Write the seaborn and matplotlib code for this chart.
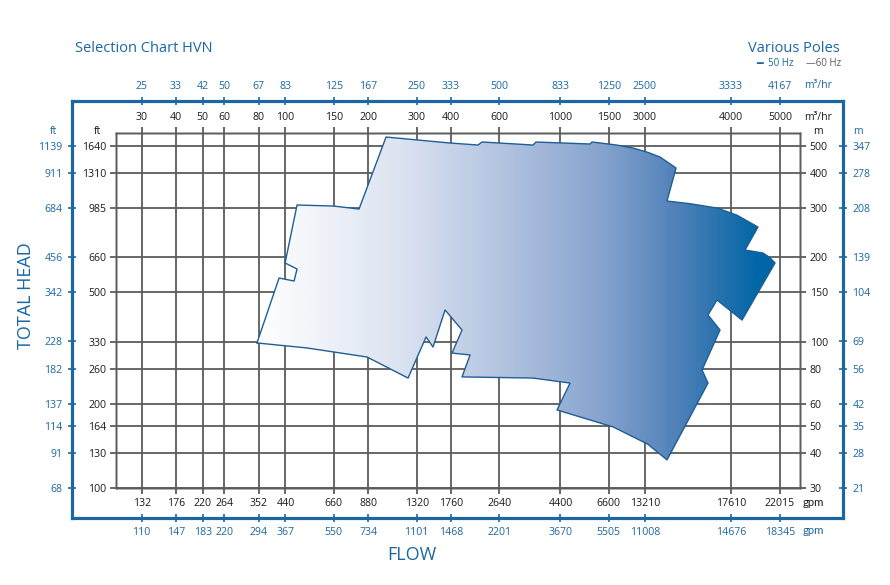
import numpy as np
import matplotlib
matplotlib.use("Agg")
import matplotlib.pyplot as plt
import seaborn as sns
from matplotlib.colors import LinearSegmentedColormap
from matplotlib.image import AxesImage
from matplotlib.ticker import NullLocator

# flow axis: where the grid lines sit (m3/hr) and the printed labels
flow_grid = [30, 40, 50, 60, 80, 100, 150, 200, 300, 400, 600, 1000, 1500, 2030, 4170, 6290]
flow_m3h_50 = ['30', '40', '50', '60', '80', '100', '150', '200', '300', '400', '600',
               '1000', '1500', '3000', '4000', '5000']
flow_m3h_60 = ['25', '33', '42', '50', '67', '83', '125', '167', '250', '333', '500',
               '833', '1250', '2500', '3333', '4167']
flow_gpm_50 = ['132', '176', '220', '264', '352', '440', '660', '880', '1320', '1760', '2640',
               '4400', '6600', '13210', '17610', '22015']
flow_gpm_60 = ['110', '147', '183', '220', '294', '367', '550', '734', '1101', '1468', '2201',
               '3670', '5505', '11008', '14676', '18345']

# head axis (m)
head_m = [30, 40, 50, 60, 80, 100, 150, 200, 300, 400, 500]
head_m_60 = ['21', '28', '35', '42', '56', '69', '104', '139', '208', '278', '347']
head_ft_50 = ['100', '130', '164', '200', '260', '330', '500', '660', '985', '1310', '1640']
head_ft_60 = ['68', '91', '114', '137', '182', '228', '342', '456', '684', '911', '1139']

# outline of the HVN selection range (flow m3/hr, head m)
range_flow = [78.8, 94.8, 107.5, 110.2, 99.7, 110.2, 149, 185.2, 232.2, 396.7, 501.6, 518.6,
              795, 815, 1281, 1303, 1600, 1836, 2080, 2302, 2633, 2441, 2950, 3711, 4380,
              5230, 4692, 5453, 5760, 6032, 4575, 3711, 3441, 3806, 3273, 3441, 2441, 2080,
              1553, 1240, 972, 1084, 795, 438.7, 469.2, 403.4, 438.7, 380.6, 344.1, 324.6,
              279.2, 198, 119.8]
range_head = [98.9, 168.7, 164.6, 181.7, 190.9, 307.5, 305, 297.5, 537.9, 512, 503.7, 516.3,
              503.7, 516.3, 507.9, 516.3, 503.7, 491.4, 474, 456.3, 417, 317.7, 311, 300, 283,
              256.5, 212.4, 207.2, 200, 190.9, 119.4, 140.8, 124.5, 110, 79.2, 71.1, 37.8, 43,
              49.6, 53, 57, 71.1, 74.1, 74.8, 89.6, 91, 110, 129.7, 95.6, 103.9, 74.1, 88.1,
              94.9]

blue = '#1b67a3'
grey = '#5c5c5c'
W, H = 890, 585

sns.set_theme(style="white")
plt.rcParams['font.family'] = ['Open Sans', 'DejaVu Sans']

fig = plt.figure(figsize=(W / 100, H / 100), dpi=100)


def rect(l, t, r, b):
    return [l / W, 1 - b / H, (r - l) / W, (b - t) / H]


def make_set(r, xlim, ylim, z):
    a = fig.add_axes(r, zorder=z)
    a.set_xscale('log')
    a.set_yscale('log')
    a.set_xlim(*xlim)
    a.set_ylim(*ylim)
    top = a.twiny()
    top.set_xscale('log')
    top.set_xlim(*xlim)
    right = a.twinx()
    right.set_yscale('log')
    right.set_ylim(*ylim)
    return a, top, right


# ---- outer blue frame (60 Hz scales)
out_lim = ((16.75, 10656), (23.4, 723))
outer, outer_t, outer_r = make_set(rect(72, 101, 843, 518), *out_lim, 0)

# ---- inner grid (50 Hz scales)
in_lim = ((24.2, 7434), (30, 556))
ax, ax_t, ax_r = make_set(rect(116, 133, 800, 488), *in_lim, 1)

# gradient fill clipped to the range outline
poly = ax.fill(range_flow, range_head, facecolor='none', edgecolor='none')[0]
cmap = LinearSegmentedColormap.from_list(
    'hvn', [(0, '#ffffff'), (0.28, '#dce4f1'), (0.48, '#b4c5e1'),
            (0.68, '#88a5cf'), (0.84, '#4f80b8'), (1, '#0066a6')])
xf = np.linspace(0, 1, 600)
grad = np.clip((xf * 684 + 116 - 257) / (760 - 257), 0, 1)[None, :]
im = AxesImage(ax, cmap=cmap, interpolation='bilinear', extent=(0, 1, 0, 1),
               transform=ax.transAxes, origin='lower')
im.set_data(grad)
im.set_clim(0, 1)
im.set_zorder(1)
im.set_clip_path(poly)
ax.add_image(im)
sns.lineplot(x=range_flow + range_flow[:1], y=range_head + range_head[:1], sort=False,
             estimator=None, color='#1f5e96', linewidth=1.0, ax=ax, zorder=3)
ax.set_xlim(*in_lim[0])
ax.set_ylim(*in_lim[1])
ax.set_xlabel('')
ax.set_ylabel('')

# ticks and labels (set after all scales are fixed)
outer.set_xticks(flow_grid, labels=flow_gpm_60)
outer.set_yticks(head_m, labels=head_ft_60)
outer_t.set_xticks(flow_grid, labels=flow_m3h_60)
outer_r.set_yticks(head_m, labels=head_m_60)
ax.set_xticks(flow_grid, labels=flow_gpm_50)
ax.set_yticks(head_m, labels=head_ft_50)
ax_t.set_xticks(flow_grid, labels=flow_m3h_50)
ax_r.set_yticks(head_m, labels=[str(v) for v in head_m])

for group, col, lw, tc, direc, ln in (((outer, outer_t, outer_r), blue, 2.2, blue, 'inout', 6),
                                      ((ax, ax_t, ax_r), grey, 1.0, '#1a1a1a', 'out', 4.5)):
    for a in group:
        for s in a.spines.values():
            s.set_color(col)
            s.set_linewidth(lw)
        a.xaxis.set_minor_locator(NullLocator())
        a.yaxis.set_minor_locator(NullLocator())
        a.tick_params(direction=direc, length=ln, width=1.2 if col == blue else 1.3,
                      color=col, labelcolor=tc, labelsize=7.6,
                      pad=3.8 if col == blue else 2.5)
    group[0].tick_params(bottom=True, left=True)
    group[1].tick_params(top=True)
    group[2].tick_params(right=True)

ax.grid(True, color=grey, linewidth=1.3)
ax.set_axisbelow(True)


# ---- titles and unit labels
def ftext(x, y, s, **kw):
    fig.text(x / W, 1 - y / H, s, va='center', **kw)


ftext(75, 49, 'Selection Chart HVN', color=blue, fontsize=10.5, ha='left')
ftext(840, 48, 'Various Poles', color=blue, fontsize=10.5, ha='right')
ftext(756, 64, '━', color=blue, fontsize=8, ha='left', family=['DejaVu Sans'])
ftext(768, 64, '50 Hz', color=blue, fontsize=7, ha='left')
ftext(806, 64, '—60 Hz', color=grey, fontsize=7, ha='left')
ftext(26, 296, 'TOTAL HEAD', color=blue, fontsize=13, ha='center', rotation=90)
ftext(412, 555, 'FLOW', color=blue, fontsize=13, ha='center')

ftext(97, 131, 'ft', color='#1a1a1a', fontsize=7.6, ha='center')
ftext(54, 131, 'ft', color=blue, fontsize=7.6, ha='center')
ftext(818, 131, 'm', color='#1a1a1a', fontsize=7.6, ha='center')
ftext(858, 131, 'm', color=blue, fontsize=7.6, ha='center')
ftext(818, 117, 'm³/hr', color='#1a1a1a', fontsize=7.6, ha='center')
ftext(818, 86, 'm³/hr', color=blue, fontsize=7.6, ha='center')
ftext(803, 502, 'gpm', color='#1a1a1a', fontsize=8.2, ha='left', family=['Lato', 'DejaVu Sans'])
ftext(803, 531, 'gpm', color=blue, fontsize=8.2, ha='left', family=['Lato', 'DejaVu Sans'])

fig.savefig('out.png', dpi=100)
